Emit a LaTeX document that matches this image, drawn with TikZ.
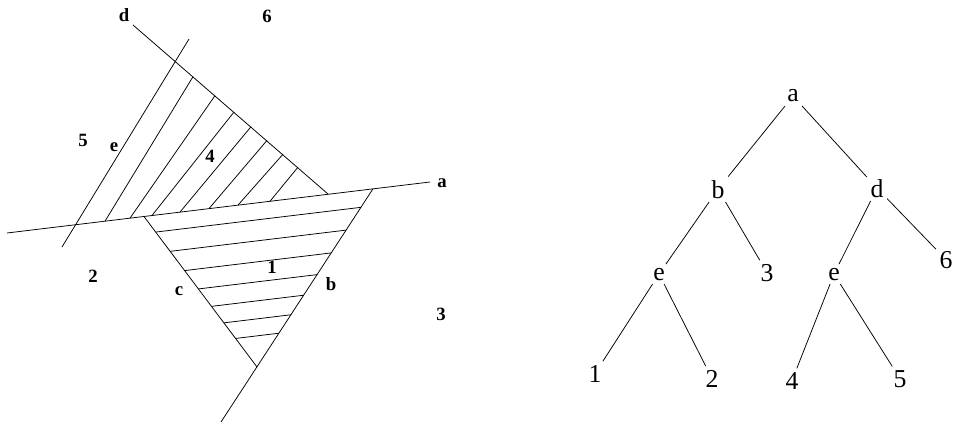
\documentclass[tikz,border=0pt]{standalone}
\usepackage{fontspec}
\setmainfont{Liberation Serif}
\usepackage{tikz}
\usetikzlibrary{positioning}

\begin{document}
\begin{tikzpicture}[x=0.03cm, y=-0.03cm,
  region/.style={font=\fontsize{16}{16}\selectfont\bfseries, anchor=base, inner sep=1pt},
  leaf/.style={font=\fontsize{22}{22}\selectfont, anchor=base, inner sep=3pt},
  cut/.style={line width=0.65pt}]
\useasboundingbox (0,0) rectangle (957,425);

% splitting lines
\draw [cut] (133,25) -- (328,194);
\draw [cut] (189,39) -- (62,247);
\draw [cut] (7,233) -- (430,182);
\draw [cut] (144,216.5) -- (257,367);
\draw [cut] (373,188.8) -- (221,422);

% hatching of region 4
\foreach \tx/\ty/\bx/\by in {193/76.7/105/221.2, 215/95.6/130/218.2, 234/112/152/215.5,
  251/126.7/180/212.1, 267/140.4/209/208.6, 283/154.2/238/205.1, 298/167.1/270/201.3}
  \draw [cut] (\tx,\ty) -- (\bx,\by);

% hatching of region 1
\begin{scope}
\clip (144,216.5) -- (373,188.8) -- (257,367) -- cycle;
\foreach \o in {17,38,59,79,98,116,133}
  \draw [cut] (100,221.8+\o) -- (420,183.2+\o);
\end{scope}

\node [region] (ld) at (124,22) {d};
\node [region] (l6) at (267,23) {6};
\node [region] (l5) at (83,147) {5};
\node [region] (le) at (114,152) {e};
\node [region] (l4) at (210,162) {4};
\node [region] (la) at (442,187) {a};
\node [region] (l2) at (93,282) {2};
\node [region] (l1) at (272,273) {1};
\node [region] (lc) at (179,295) {c};
\node [region] (lb) at (331,290) {b};
\node [region] (l3) at (441,320) {3};

% tree
\node [leaf] (a) at (793,102) {a};
\node [leaf] (b) at (718,198) {b};
\node [leaf] (d) at (877,197) {d};
\node [leaf] (eb) at (659,280) {e};
\node [leaf] (t3) at (767,281) {3};
\node [leaf] (ed) at (834,280) {e};
\node [leaf] (t6) at (946,268) {6};
\node [leaf] (t1) at (595,382) {1};
\node [leaf] (t2) at (712,387) {2};
\node [leaf] (t4) at (792,389) {4};
\node [leaf] (t5) at (900,387) {5};

\draw [cut] (a) -- (b);
\draw [cut] (a) -- (d);
\draw [cut] (b) -- (eb);
\draw [cut] (b) -- (t3);
\draw [cut] (d) -- (ed);
\draw [cut] (d) -- (t6);
\draw [cut] (eb) -- (t1);
\draw [cut] (eb) -- (t2);
\draw [cut] (ed) -- (t4);
\draw [cut] (ed) -- (t5);

\end{tikzpicture}
\end{document}
